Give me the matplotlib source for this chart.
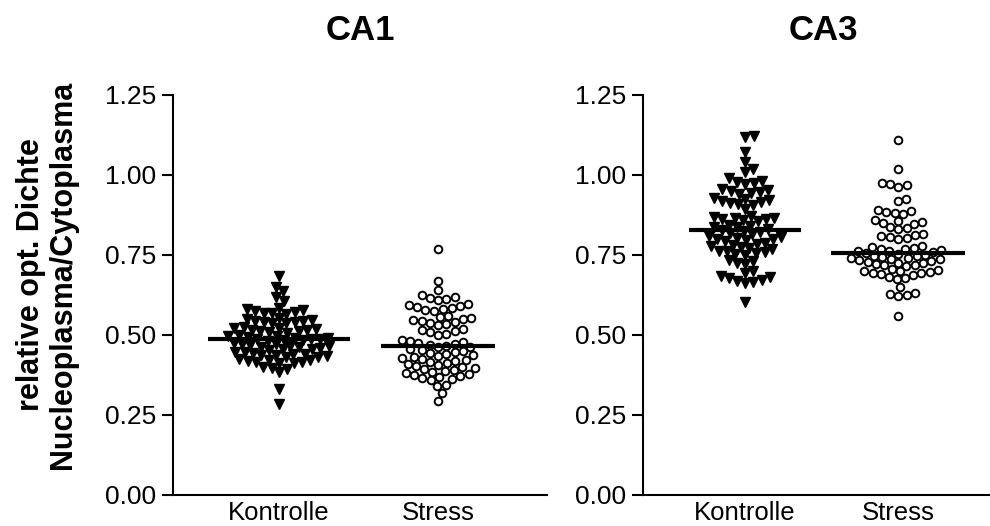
"""Dot plots of relative optical density for CA1 and CA3"""

import numpy as np
import matplotlib
matplotlib.use("Agg")
import matplotlib.pyplot as plt

plt.rcParams["font.family"] = ["Liberation Sans", "DejaVu Sans"]

groups = ["Kontrolle", "Stress"]
panels = ["CA1", "CA3"]

ca1_kontrolle = [
    0.685, 0.649, 0.636, 0.620, 0.607,
    0.585, 0.580, 0.578, 0.575, 0.572, 0.570, 0.568, 0.565,
    0.552, 0.550, 0.548, 0.545, 0.543, 0.541, 0.540, 0.538, 0.536,
    0.525, 0.523, 0.521, 0.519, 0.517, 0.515, 0.513, 0.511, 0.509, 0.507,
    0.500, 0.498, 0.496, 0.494, 0.492, 0.490, 0.489, 0.487, 0.486, 0.484, 0.483, 0.481,
    0.475, 0.473, 0.471, 0.469, 0.467, 0.465, 0.463, 0.461, 0.459, 0.457, 0.455, 0.453,
    0.448, 0.446, 0.444, 0.442, 0.440, 0.438, 0.436, 0.434, 0.432, 0.430,
    0.425, 0.423, 0.421, 0.419, 0.417, 0.415, 0.413, 0.411,
    0.400, 0.398, 0.395, 0.385, 0.331, 0.284,
]
ca1_stress = [
    0.769, 0.668, 0.641,
    0.625, 0.620, 0.616, 0.612, 0.608,
    0.598, 0.594, 0.590, 0.587, 0.584, 0.581, 0.578, 0.575,
    0.560, 0.556, 0.552, 0.549, 0.546, 0.543, 0.540, 0.537, 0.534, 0.530,
    0.520, 0.516, 0.512, 0.508, 0.504, 0.500,
    0.485, 0.482, 0.479, 0.476, 0.473, 0.470, 0.467, 0.464, 0.461,
    0.455, 0.452, 0.449, 0.446, 0.443, 0.440, 0.437, 0.434, 0.431,
    0.428, 0.425, 0.422, 0.419, 0.416, 0.413, 0.410, 0.407,
    0.402, 0.399, 0.396, 0.393, 0.390, 0.387, 0.384, 0.381, 0.378,
    0.374, 0.371, 0.368, 0.365, 0.362,
    0.358, 0.345, 0.342, 0.319, 0.295,
]
ca3_kontrolle = [
    1.123, 1.120, 1.071, 1.042, 1.019, 1.008, 0.990,
    0.982, 0.978, 0.975, 0.972,
    0.956, 0.953, 0.950, 0.947, 0.944, 0.941,
    0.928, 0.925, 0.922, 0.919, 0.916, 0.913, 0.910, 0.907,
    0.894,
    0.872, 0.869, 0.867, 0.865, 0.863, 0.861, 0.858, 0.855,
    0.845, 0.842, 0.839, 0.836,
    0.830, 0.827, 0.824, 0.821, 0.818, 0.815,
    0.808, 0.805, 0.803, 0.801, 0.799, 0.797, 0.794,
    0.787, 0.784, 0.781, 0.778, 0.775, 0.772, 0.769,
    0.764, 0.761, 0.758, 0.755, 0.752, 0.749,
    0.734, 0.730, 0.726, 0.722,
    0.700, 0.694,
    0.685, 0.681, 0.677, 0.673, 0.669, 0.666, 0.662,
    0.602,
]
ca3_stress = [
    1.110, 1.019,
    0.975, 0.972, 0.968, 0.964,
    0.924, 0.918,
    0.890, 0.887, 0.884, 0.881, 0.878,
    0.860, 0.857, 0.854, 0.851, 0.848,
    0.838, 0.834, 0.830,
    0.815, 0.812, 0.809, 0.806, 0.803, 0.800,
    0.778, 0.775, 0.772, 0.770, 0.768, 0.766, 0.764, 0.762, 0.760, 0.757, 0.754,
    0.750, 0.748, 0.746, 0.744, 0.742, 0.740, 0.738, 0.736, 0.734, 0.732,
    0.728, 0.726, 0.724, 0.722, 0.720, 0.718, 0.716,
    0.705, 0.703, 0.701, 0.699, 0.697, 0.695, 0.693, 0.691, 0.689,
    0.680, 0.677, 0.674,
    0.649,
    0.632, 0.629, 0.626, 0.623,
    0.560,
]

yticks = [0.00, 0.25, 0.50, 0.75, 1.00, 1.25]
ylabel = "relative opt. Dichte\nNucleoplasma/Cytoplasma"


def swarm_offsets(vals, d, xscale, yscale):
    """greedy beeswarm, works in pixels and returns x offsets in data units"""
    vals = np.asarray(vals)
    xs = np.zeros(len(vals))
    placed = []
    for i in np.argsort(vals):
        y = vals[i] * yscale
        near = [(px, py) for px, py in placed if abs(py - y) < d]
        cands = [0.0]
        for px, py in near:
            dx = np.sqrt(d * d - (py - y) ** 2)
            cands += [px + dx, px - dx]
        cands.sort(key=abs)
        for c in cands:
            if all((c - px) ** 2 + (y - py) ** 2 >= d * d - 1e-6 for px, py in near):
                xs[i] = c
                break
        placed.append((xs[i], y))
    return xs / xscale


fig = plt.figure(figsize=(9.9, 5.26), dpi=100)
W, H = 990, 526
xlim = (-0.667, 1.685)

axes_px = [(173, 374), (643, 360)]
data = [(ca1_kontrolle, ca1_stress), (ca3_kontrolle, ca3_stress)]

for (x0, w), title, (kon, stress) in zip(axes_px, panels, data):
    ax = fig.add_axes([x0 / W, 31 / H, w / W, 400 / H])
    xscale = w / (xlim[1] - xlim[0])
    yscale = 400 / 1.25
    for pos, vals in enumerate([kon, stress]):
        off = swarm_offsets(vals, 8.5, xscale, yscale)
        if pos == 0:
            ax.plot(pos + off, vals, "v", color="black", markersize=6.5,
                    linestyle="none", clip_on=False)
        else:
            ax.plot(pos + off, vals, "o", markerfacecolor="white",
                    markeredgecolor="black", markeredgewidth=1.4,
                    markersize=5.5, linestyle="none", clip_on=False)
        half = np.abs(off).max() + 20 / xscale
        ax.hlines(np.median(vals), pos - half, pos + half, color="black",
                  linewidth=3, zorder=3)

    ax.set_xlim(*xlim)
    ax.set_ylim(0, 1.25)
    ax.set_yticks(yticks)
    ax.set_yticklabels([f"{t:.2f}" for t in yticks])
    ax.set_xticks([0, 1])
    ax.set_xticklabels(groups)
    ax.spines["top"].set_visible(False)
    ax.spines["right"].set_visible(False)
    ax.spines["left"].set_linewidth(1.5)
    ax.spines["bottom"].set_linewidth(1.5)
    ax.tick_params(axis="y", length=8, width=1.5, pad=4, labelsize=19)
    ax.tick_params(axis="x", length=0, pad=4, labelsize=18.5)
    fig.text((x0 + w / 2) / W, 1 - 31 / H, title, ha="center", va="center",
             fontsize=25, fontweight="bold")

fig.text(47 / W, 1 - 275 / H, ylabel, rotation=90, ha="center", va="center",
         fontsize=22, fontweight="bold", multialignment="center", linespacing=1.05)

fig.savefig("out.png", dpi=100)
